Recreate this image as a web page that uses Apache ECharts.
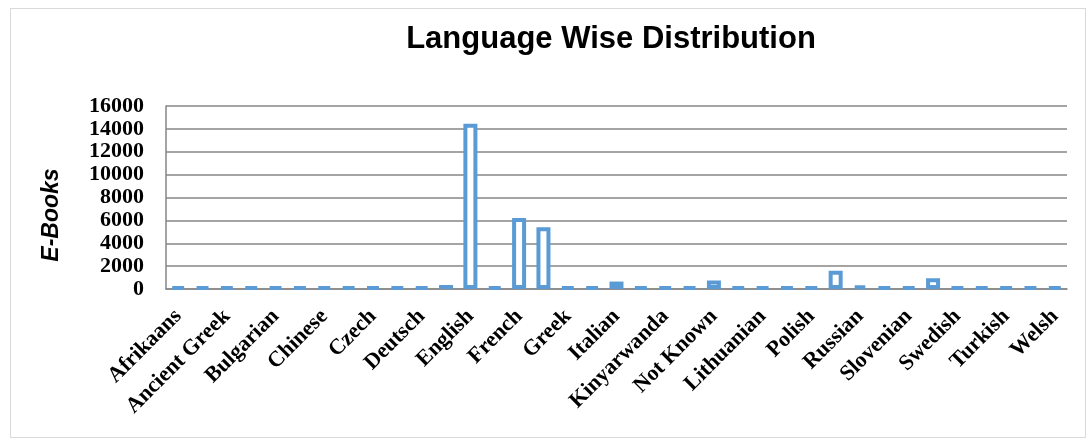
<!DOCTYPE html>
<html>
<head>
<meta charset="utf-8">
<script src="https://cdn.jsdelivr.net/npm/echarts@6/dist/echarts.min.js"></script>
<style>
  html, body { margin: 0; padding: 0; background: #fff; }
  #frame { position: absolute; left: 10px; top: 8px; width: 1074px; height: 428px; border: 1px solid #d9d9d9; }
  #LanguageChart { position: absolute; left: 0; top: 0; width: 1091px; height: 443px; }
</style>
</head>
<body>
<div id="frame"></div>
<div id="LanguageChart"></div>
<script>
// Language Wise Distribution
var languages = ['Afrikaans', 'Albanian', 'Ancient Greek', 'Bengali', 'Bulgarian', 'Catalan', 'Chinese', 'Croatian',
    'Czech', 'Danish', 'Deutsch', 'Dutch', 'English', 'Esperanto', 'French', 'German', 'Greek', 'Hungarian',
    'Italian', 'Japanese', 'Kinyarwanda', 'Latin', 'Not Known', 'Latvian', 'Lithuanian', 'Norwegian', 'Polish',
    'Portuguese', 'Russian', 'Serbian', 'Slovenian', 'Spanish', 'Swedish', 'Tamil', 'Turkish', 'Ukrainian', 'Welsh'];
var ebooks = [180, 180, 180, 180, 180, 180, 180, 180,
    180, 180, 180, 350, 14450, 180, 6200, 5400, 180, 180,
    650, 180, 180, 180, 750, 180, 180, 180, 180,
    1600, 300, 180, 180, 950, 180, 180, 180, 180, 180];
var yTicks = [0, 16000, 2000]; // min, max, step

var dom = document.getElementById("LanguageChart");
var myChart = echarts.init(dom);
var option = null;
option = {
    title: {
        text: 'Language Wise Distribution',
        left: 606,
        top: 19,
        textAlign: 'center',
        textStyle: {
            fontFamily: 'Liberation Sans',
            fontWeight: 'bold',
            fontSize: 31,
            color: '#000'
        }
    },
    grid: {
        left: 166,
        right: 24,
        top: 106,
        bottom: 154
    },
    xAxis: {
        type: 'category',
        data: languages,
        axisTick: {show: false},
        axisLine: {
            show: true,
            lineStyle: {color: '#868686', width: 1.5}
        },
        axisLabel: {
            interval: 1,
            rotate: 45,
            margin: 24,
            fontFamily: 'Liberation Serif',
            fontWeight: 'bold',
            fontSize: 22,
            color: '#000'
        }
    },
    yAxis: {
        type: 'value',
        min: yTicks[0],
        max: yTicks[1],
        interval: yTicks[2],
        name: 'E-Books',
        nameLocation: 'middle',
        nameGap: 103,
        nameTextStyle: {
            fontFamily: 'Liberation Sans',
            fontWeight: 'bold',
            fontStyle: 'italic',
            fontSize: 23,
            color: '#000',
            padding: [0, 35, 0, 0]
        },
        axisTick: {show: false},
        axisLine: {
            show: true,
            lineStyle: {color: '#868686', width: 1.5}
        },
        splitLine: {
            show: true,
            lineStyle: {color: '#868686', width: 1.5}
        },
        axisLabel: {
            margin: 22,
            formatter: function (v) { return String(v); },
            fontFamily: 'Liberation Serif',
            fontWeight: 'bold',
            fontSize: 22,
            color: '#000'
        }
    },
    series: [
        {
            name: 'E-Books',
            type: 'bar',
            barWidth: 14,
            data: ebooks,
            z: 3,
            itemStyle: {
                color: '#fff',
                borderColor: '#5b9bd5',
                borderWidth: 4
            }
        }
    ]
};
if (option && typeof option === "object") {
    myChart.setOption(option, true);
    window.onresize = myChart.resize;
}
</script>
</body>
</html>
